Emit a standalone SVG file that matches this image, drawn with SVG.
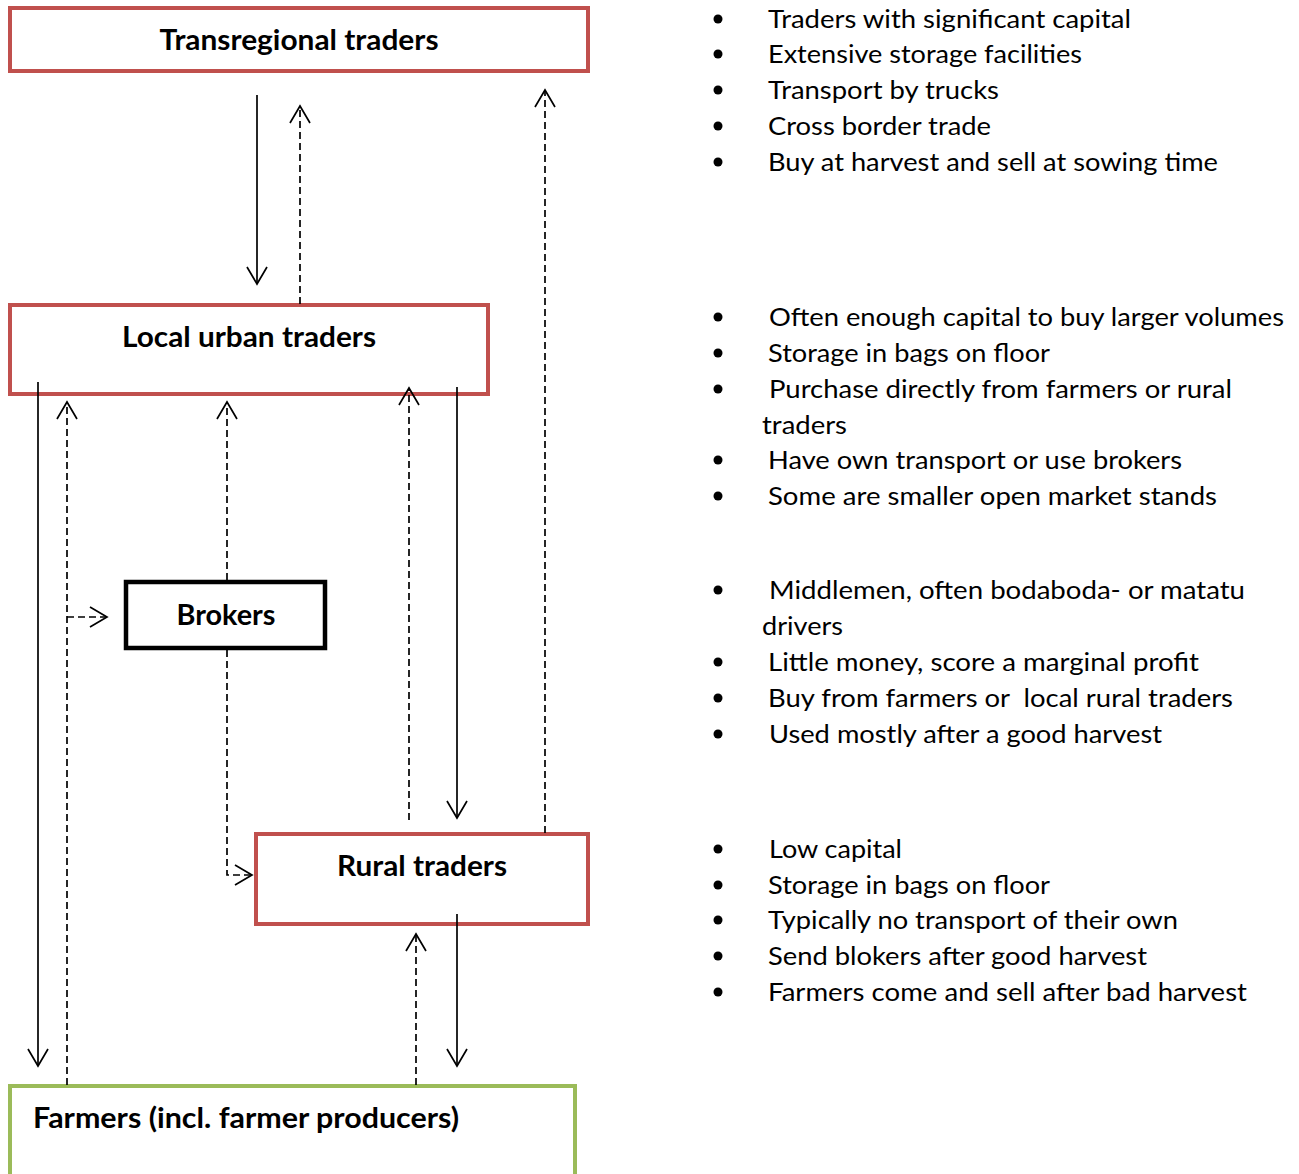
<svg xmlns="http://www.w3.org/2000/svg" width="1299" height="1174" viewBox="0 0 1299 1174">
  <style>
    .box-red { fill: #ffffff; stroke: #C0504D; stroke-width: 4; }
    .box-black { fill: #ffffff; stroke: #000000; stroke-width: 4.5; }
    .box-green { fill: #ffffff; stroke: #9BBB59; stroke-width: 4; }
    .title { font-family: Lato, "Liberation Sans", sans-serif; font-weight: bold; font-size: 28.5px; fill: #000; }
    .item { font-family: Lato, "Liberation Sans", sans-serif; font-size: 25.5px; fill: #000; }
    .flow { fill: none; stroke: #000; stroke-width: 1.7; marker-end: url(#open); }
    .dash { stroke-dasharray: 7 4; }
    .dot { fill: #000; }
  </style>
  <defs>
    <marker id="open" markerUnits="userSpaceOnUse" markerWidth="40" markerHeight="40" viewBox="-20 -20 40 40" refX="0" refY="0" orient="auto" overflow="visible">
      <path d="M -17 -10 L 0 0 L -17 10" fill="none" stroke="#000" stroke-width="1.7" stroke-dasharray="none"/>
    </marker>
  </defs>

  <rect width="1299" height="1174" fill="#ffffff"/>

  <!-- nodes -->
  <g id="transregional">
    <rect class="box-red" x="10" y="8" width="578" height="63"/>
    <text class="title" x="299" y="50" text-anchor="middle" textLength="279" lengthAdjust="spacingAndGlyphs">Transregional traders</text>
  </g>
  <g id="local-urban">
    <rect class="box-red" x="10" y="305" width="478" height="89"/>
    <text class="title" x="249" y="347" text-anchor="middle" textLength="254" lengthAdjust="spacingAndGlyphs">Local urban traders</text>
  </g>
  <g id="brokers">
    <rect class="box-black" x="126" y="582" width="199" height="66"/>
    <text class="title" x="226" y="625" text-anchor="middle" textLength="99" lengthAdjust="spacingAndGlyphs">Brokers</text>
  </g>
  <g id="rural">
    <rect class="box-red" x="256" y="834" width="332" height="90"/>
    <text class="title" x="422" y="876" text-anchor="middle" textLength="170" lengthAdjust="spacingAndGlyphs">Rural traders</text>
  </g>
  <g id="farmers">
    <rect class="box-green" x="10" y="1086" width="565" height="100"/>
    <text class="title" x="33" y="1128" textLength="426" lengthAdjust="spacingAndGlyphs">Farmers (incl. farmer producers)</text>
  </g>

  <!-- connectors -->
  <g id="connectors">
    <path class="flow" d="M257 95 V284"/>
    <path class="flow dash" d="M300 304 V106"/>
    <path class="flow dash" d="M545 833 V90"/>
    <path class="flow" d="M38 382 V1066"/>
    <path class="flow dash" d="M67 1085 V402"/>
    <path class="flow dash" d="M227 580 V402"/>
    <path class="flow dash" d="M67 617 H107"/>
    <path class="flow dash" d="M227 650 V875 H252"/>
    <path class="flow dash" d="M409 820 V388"/>
    <path class="flow" d="M457 387 V818"/>
    <path class="flow dash" d="M416 1085 V934"/>
    <path class="flow" d="M457 914 V1066"/>
  </g>

  <!-- descriptions -->
  <g id="notes-transregional">
    <circle class="dot" cx="718" cy="19" r="4.5"/>
    <circle class="dot" cx="718" cy="54" r="4.5"/>
    <circle class="dot" cx="718" cy="90" r="4.5"/>
    <circle class="dot" cx="718" cy="126" r="4.5"/>
    <circle class="dot" cx="718" cy="162" r="4.5"/>
    <text class="item" x="768" y="28" textLength="363" lengthAdjust="spacingAndGlyphs">Traders with significant capital</text>
    <text class="item" x="768" y="63" textLength="314" lengthAdjust="spacingAndGlyphs">Extensive storage facilities</text>
    <text class="item" x="768" y="99" textLength="231" lengthAdjust="spacingAndGlyphs">Transport by trucks</text>
    <text class="item" x="768" y="135" textLength="223" lengthAdjust="spacingAndGlyphs">Cross border trade</text>
    <text class="item" x="768" y="171" textLength="450" lengthAdjust="spacingAndGlyphs">Buy at harvest and sell at sowing time</text>
  </g>
  <g id="notes-local-urban">
    <circle class="dot" cx="718" cy="317" r="4.5"/>
    <circle class="dot" cx="718" cy="353" r="4.5"/>
    <circle class="dot" cx="718" cy="389" r="4.5"/>
    <circle class="dot" cx="718" cy="460" r="4.5"/>
    <circle class="dot" cx="718" cy="496" r="4.5"/>
    <text class="item" x="769" y="326" textLength="515" lengthAdjust="spacingAndGlyphs">Often enough capital to buy larger volumes</text>
    <text class="item" x="768" y="362" textLength="282" lengthAdjust="spacingAndGlyphs">Storage in bags on floor</text>
    <text class="item" x="769" y="398" textLength="463" lengthAdjust="spacingAndGlyphs">Purchase directly from farmers or rural</text>
    <text class="item" x="762" y="434" textLength="85" lengthAdjust="spacingAndGlyphs">traders</text>
    <text class="item" x="768" y="469" textLength="414" lengthAdjust="spacingAndGlyphs">Have own transport or use brokers</text>
    <text class="item" x="768" y="505" textLength="449" lengthAdjust="spacingAndGlyphs">Some are smaller open market stands</text>
  </g>
  <g id="notes-brokers">
    <circle class="dot" cx="718" cy="590" r="4.5"/>
    <circle class="dot" cx="718" cy="662" r="4.5"/>
    <circle class="dot" cx="718" cy="698" r="4.5"/>
    <circle class="dot" cx="718" cy="734" r="4.5"/>
    <text class="item" x="769" y="599" textLength="476" lengthAdjust="spacingAndGlyphs">Middlemen, often bodaboda- or matatu</text>
    <text class="item" x="762" y="635" textLength="81" lengthAdjust="spacingAndGlyphs">drivers</text>
    <text class="item" x="768" y="671" textLength="431" lengthAdjust="spacingAndGlyphs">Little money, score a marginal profit</text>
    <text class="item" x="768" y="707" textLength="465" lengthAdjust="spacingAndGlyphs" xml:space="preserve">Buy from farmers or  local rural traders</text>
    <text class="item" x="769" y="743" textLength="393" lengthAdjust="spacingAndGlyphs">Used mostly after a good harvest</text>
  </g>
  <g id="notes-rural">
    <circle class="dot" cx="718" cy="849" r="4.5"/>
    <circle class="dot" cx="718" cy="885" r="4.5"/>
    <circle class="dot" cx="718" cy="920" r="4.5"/>
    <circle class="dot" cx="718" cy="956" r="4.5"/>
    <circle class="dot" cx="718" cy="992" r="4.5"/>
    <text class="item" x="769" y="858" textLength="133" lengthAdjust="spacingAndGlyphs">Low capital</text>
    <text class="item" x="768" y="894" textLength="282" lengthAdjust="spacingAndGlyphs">Storage in bags on floor</text>
    <text class="item" x="768" y="929" textLength="410" lengthAdjust="spacingAndGlyphs">Typically no transport of their own</text>
    <text class="item" x="768" y="965" textLength="379" lengthAdjust="spacingAndGlyphs">Send blokers after good harvest</text>
    <text class="item" x="768" y="1001" textLength="479" lengthAdjust="spacingAndGlyphs">Farmers come and sell after bad harvest</text>
  </g>
</svg>
